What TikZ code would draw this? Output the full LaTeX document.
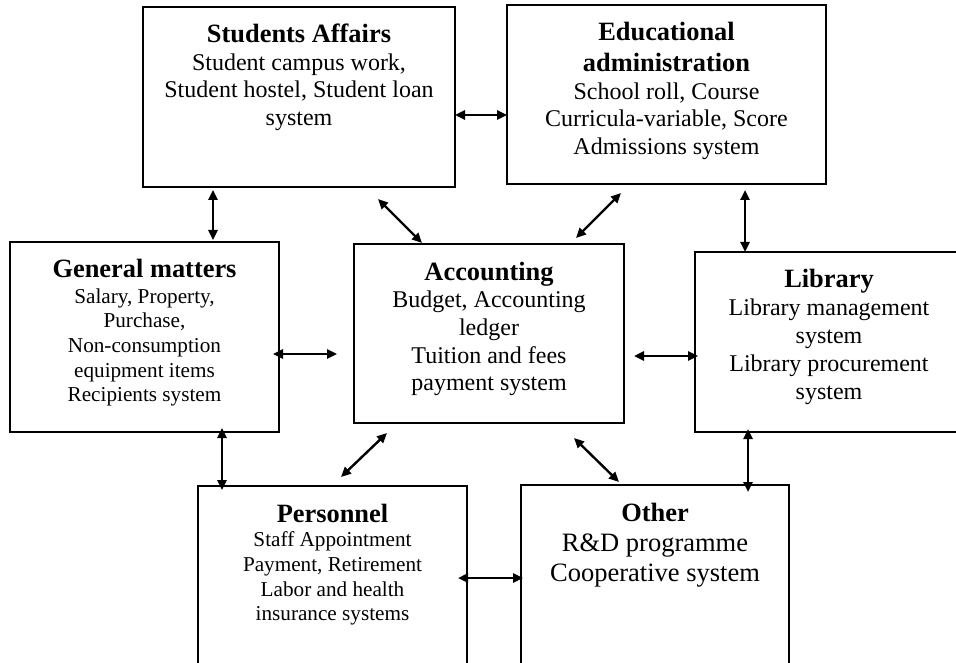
\documentclass[tikz,border=0pt]{standalone}
\usepackage{fontspec}
\setmainfont{Liberation Serif}
\usetikzlibrary{arrows.meta,calc}
\newcommand\bxtitle[1]{\rule{0pt}{20pt}{\bfseries\fontsize{26.4}{30}\selectfont #1}}
\newcommand\bxtitleb[1]{{\bfseries\fontsize{26.4}{30}\selectfont #1}}
\begin{document}
\begin{tikzpicture}[x=1pt,y=-1pt,
  box/.style={draw, line width=2pt, inner sep=0pt, outer sep=0pt, anchor=north west},
  txt/.style={align=center, anchor=north, inner sep=0pt, outer sep=0pt},
  arr/.style={line width=2.4pt, {Triangle[length=10pt,width=9pt]}-{Triangle[length=10pt,width=9pt]}}]
\useasboundingbox (0,0) rectangle (956,663);
\clip (0,0) rectangle (956,663);
% boxes
\node[box, minimum width=312pt, minimum height=180pt] (sa)  at (143,7) {};
\node[box, minimum width=319pt, minimum height=179pt] (edu) at (507,5) {};
\node[box, minimum width=269pt, minimum height=190pt] (gen) at (10,242) {};
\node[box, minimum width=270pt, minimum height=179pt] (acc) at (354,244) {};
\node[box, minimum width=268pt, minimum height=180pt] (lib) at (695,252) {};
\node[box, minimum width=269pt, minimum height=214pt] (per) at (198,486) {};
\node[box, minimum width=268pt, minimum height=215pt] (oth) at (521,485) {};
% texts
\node[txt, font=\fontsize{24}{27.5}\selectfont] (saT) at (299,23)
  {\bxtitle{Students Affairs}\\Student campus work,\\Student hostel, Student loan\\system};
\node[txt, font=\fontsize{24}{27.5}\selectfont] (eduT) at (666.5,21)
  {\bxtitle{Educational}\\[3.5pt]\bxtitleb{administration}\\School roll, Course\\Curricula-variable, Score\\Admissions system};
\node[txt, font=\fontsize{21.2}{24.7}\selectfont] (genT) at (144.5,257)
  {\bxtitle{General matters}\\[1.3pt]Salary, Property,\\Purchase,\\Non-consumption\\equipment items\\Recipients system};
\node[txt, font=\fontsize{24}{27.7}\selectfont] (accT) at (489,260)
  {\bxtitle{Accounting}\\Budget, Accounting\\ledger\\Tuition and fees\\payment system};
\node[txt, font=\fontsize{24}{28}\selectfont] (libT) at (829,267)
  {\bxtitle{Library}\\Library management\\system\\Library procurement\\system};
\node[txt, font=\fontsize{21.2}{24.7}\selectfont] (perT) at (332.5,502)
  {\bxtitle{Personnel}\\Staff Appointment\\Payment, Retirement\\Labor and health\\insurance systems};
\node[txt, font=\fontsize{26.5}{30}\selectfont] (othT) at (655,501)
  {\bxtitle{Other}\\R\&D programme\\Cooperative system};
% connectors
\draw[arr] ([yshift=-18pt]sa.east) -- ([yshift=-18pt]sa.east -| edu.west);
\draw[arr] ($(sa.south west)+(70,3)$) -- ($(gen.north west)+(203,-2)$);
\draw[arr] ($(sa.south west)+(235,12)$) -- ($(acc.north west)+(68,-1)$);
\draw[arr] ($(edu.south west)+(114,9)$) -- ($(acc.north west)+(222,-6)$);
\draw[arr] ($(edu.south west)+(238,6)$) -- ($(lib.north west)+(50,0)$);
\draw[arr] ($(gen.north east)+(-6,112)$) -- ($(acc.north west)+(-17,110)$);
\draw[arr] ($(acc.north east)+(10,112)$) -- ($(lib.north west)+(3,104)$);
\draw[arr] ($(gen.south west)+(212,-4)$) -- ($(per.north west)+(24,4)$);
\draw[arr] ($(acc.south west)+(33,10)$) -- ($(per.north west)+(143,-9)$);
\draw[arr] ($(acc.south west)+(220,15)$) -- ($(oth.north west)+(98,-3)$);
\draw[arr] ($(lib.south west)+(53,-3)$) -- ($(oth.north west)+(227,7)$);
\draw[arr] ($(per.north east)+(-9,92)$) -- ($(oth.north west)+(2,93)$);
\end{tikzpicture}
\end{document}
